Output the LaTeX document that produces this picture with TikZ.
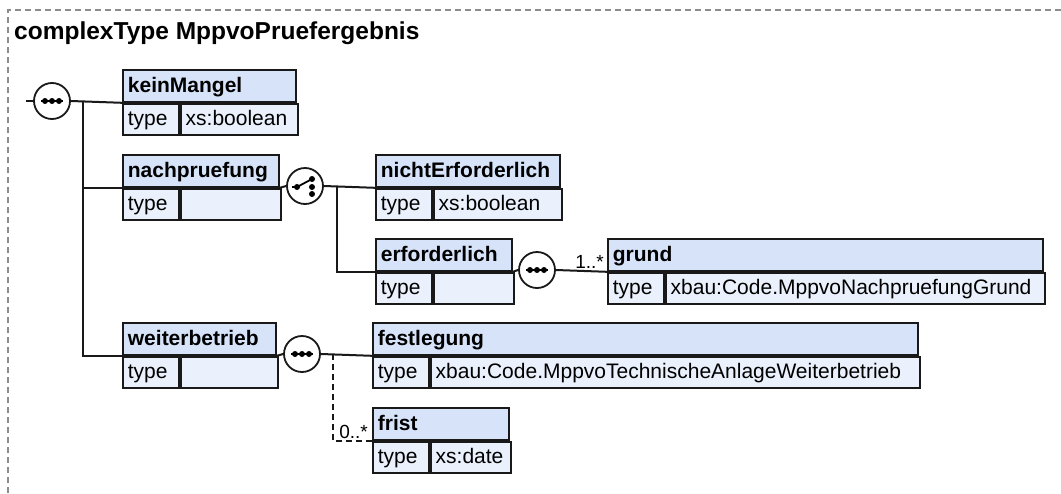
\documentclass[tikz,border=0pt]{standalone}
\usepackage{fontspec}
\setmainfont{Liberation Sans}
\usepackage{xcolor}
\usetikzlibrary{calc}

\definecolor{hdrblue}{RGB}{214,227,249}
\definecolor{rowblue}{RGB}{234,241,252}
\definecolor{boxline}{RGB}{25,25,25}
\definecolor{framegray}{RGB}{140,140,140}

% element box: name, position, header text width, value text width, label, type
\newcommand{\xelem}[6]{%
  \node[hdr, text width=#3] (#1) at #2 {#5};
  \node[row, text width=46pt, anchor=north west] (#1-k) at (#1.south west) {type};
  \node[row, text width=#4, anchor=north west] (#1-v) at (#1-k.north east) {#6};
}
% sequence and choice icons inside a compositor circle
\newcommand{\seqicon}[1]{%
  \begin{scope}[shift={(#1)}]
    \draw[line width=1.8pt] (-11,0) -- (11,0);
    \foreach \dx in {-7,0,7} \fill (\dx,0) circle (3pt);
  \end{scope}}
\newcommand{\choiceicon}[1]{%
  \begin{scope}[shift={(#1)}]
    \draw[line width=1.8pt] (-13,1) -- (-8,1) -- (7,-7);
    \foreach \dy in {-7,1,8} \fill (7,\dy) circle (3pt);
    \fill (-8,1) circle (3pt);
  \end{scope}}

\begin{document}
\begin{tikzpicture}[x=1pt, y=-1pt,
    every node/.style={font=\fontsize{21}{25}\selectfont},
    hdr/.style={draw=boxline, line width=1.8pt, fill=hdrblue, anchor=north west,
      minimum height=32pt, inner xsep=5pt, inner ysep=0pt, align=left,
      text height=16pt, text depth=3pt, font=\fontsize{21}{25}\selectfont\bfseries},
    row/.style={draw=boxline, line width=1.8pt, fill=rowblue, minimum height=31pt,
      inner xsep=5pt, inner ysep=0pt, align=left, text height=16pt, text depth=3pt},
    comp/.style={circle, draw=boxline, line width=1.8pt, fill=white,
      minimum size=36pt, inner sep=0pt},
    conn/.style={draw=boxline, line width=2pt},
    mult/.style={font=\fontsize{19}{22}\selectfont, inner sep=0pt, anchor=base east}]
  \useasboundingbox (0,0) rectangle (1061,493);
  \draw[framegray, line width=1.2pt, dash pattern=on 6pt off 4pt] (8,493) -- (8,10) -- (1061,10);
  \node[anchor=base west, inner sep=0pt, font=\fontsize{24.5}{28}\selectfont\bfseries]
    (title) at (14,39) {complexType MppvoPruefergebnis};

  \coordinate (root) at (26,101);
  \coordinate (trunk1) at (83,101);
  \coordinate (trunk2) at (337,186);
  \coordinate (trunk3) at (333,354);

  \xelem{kein}{(122,69)}{163pt}{107pt}{keinMangel}{xs:boolean}
  \xelem{nach}{(122,154)}{146pt}{90pt}{nachpruefung}{}
  \xelem{nicht}{(375,154)}{174pt}{118pt}{nichtErforderlich}{xs:boolean}
  \xelem{erf}{(375,238)}{126pt}{70pt}{erforderlich}{}
  \xelem{grund}{(607,238)}{425pt}{369pt}{grund}{xbau:Code.MppvoNachpruefungGrund}
  \xelem{weiter}{(122,322)}{143pt}{87pt}{weiterbetrieb}{}
  \xelem{fest}{(372,322)}{535pt}{479pt}{festlegung}{xbau:Code.MppvoTechnischeAnlageWeiterbetrieb}
  \xelem{frist}{(372,407)}{126pt}{70pt}{frist}{xs:date}

  \node[comp] (s1) at (52,101) {};
  \node[comp] (ch) at (305,186) {};
  \node[comp] (s2) at (537,270) {};
  \node[comp] (s3) at (302,354) {};
  \seqicon{s1} \choiceicon{ch} \seqicon{s2} \seqicon{s3}

  % connectors
  \draw[conn] (root) -- (s1.west);
  \draw[conn] (s1.east) -- (kein.south west);
  \draw[conn] (trunk1) |- (nach.south west);
  \draw[conn] (trunk1) |- (weiter.south west);
  \draw[conn] (nach.south east) -- (ch.west);
  \draw[conn] (ch.east) -- (nicht.south west);
  \draw[conn] (trunk2) |- (erf.south west);
  \draw[conn] (erf.south east) -- (s2.west);
  \draw[conn] (s2.east) -- (grund.south west);
  \draw[conn] (weiter.south east) -- (s3.west);
  \draw[conn] (s3.east) -- (fest.south west);
  \draw[conn, dash pattern=on 6pt off 4pt] (trunk3) |- (frist.south west);

  \node[mult] (m1) at ($(grund.south west)+(-3,-3)$) {1..*};
  \node[mult] (m2) at ($(frist.south west)+(-4,-2)$) {0..*};
\end{tikzpicture}
\end{document}
